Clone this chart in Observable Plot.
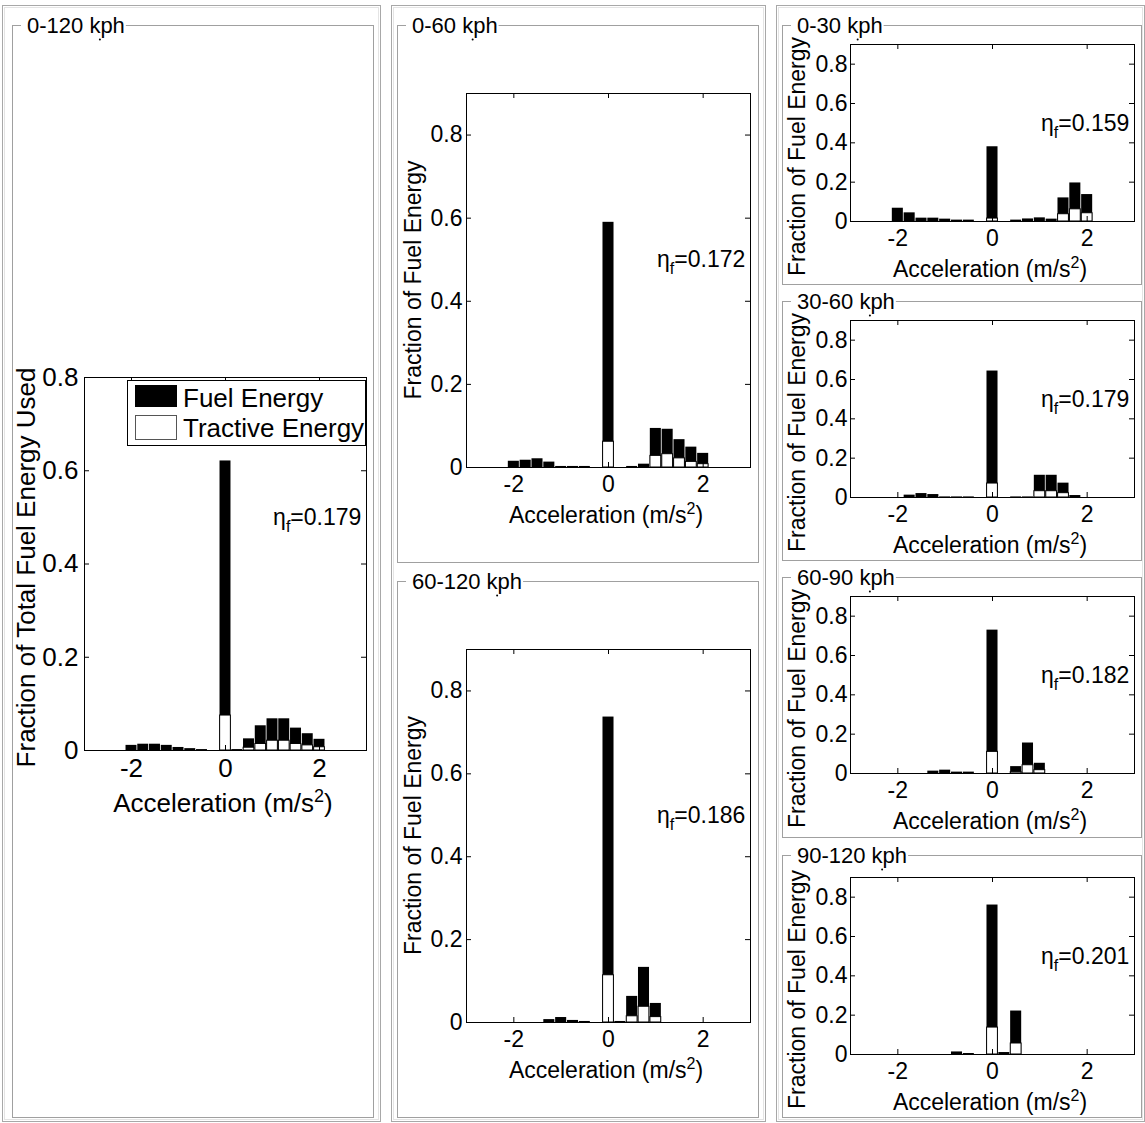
<!DOCTYPE html>
<html><head><meta charset="utf-8">
<script src="https://cdn.jsdelivr.net/npm/d3@7"></script>
<script src="https://cdn.jsdelivr.net/npm/@observablehq/plot@0.6"></script>
<style>
html,body{margin:0;padding:0;background:#fff;}
#root{position:relative;width:1145px;height:1123px;overflow:hidden;font-family:"Liberation Sans",Arial,sans-serif;}
#root svg{position:absolute;overflow:visible;}
</style></head><body><div id="root"></div>
<script>
// ---- data ----
const bins = [-2,-1.75,-1.5,-1.25,-1,-0.75,-0.5,-0.25,0,0.25,0.5,0.75,1,1.25,1.5,1.75,2];
const titles = ["0-120 kph","0-60 kph","60-120 kph","0-30 kph","30-60 kph","60-90 kph","90-120 kph"];
const etas = ["0.179","0.172","0.186","0.159","0.179","0.182","0.201"];
const yMaxes = [0.8,0.9,0.9,0.9,0.9,0.9,0.9];
const xTicks = [-2,0,2];
const yTicks = [0,0.2,0.4,0.6,0.8];
const yLabels = ["Fraction of Total Fuel Energy Used","Fraction of Fuel Energy","Fraction of Fuel Energy","Fraction of Fuel Energy","Fraction of Fuel Energy","Fraction of Fuel Energy","Fraction of Fuel Energy"];
const xLabelParts = ["Acceleration (m/s","2",")"];
const legendLabels = ["Fuel Energy","Tractive Energy"];

const fuel0to120  = [0.011,0.0135,0.0135,0.011,0.0065,0.004,0.002,0,0.621,0.002,0.025,0.053,0.068,0.068,0.048,0.036,0.024];
const tract0to120 = [0,0,0,0,0,0,0,0,0.075,0,0.006,0.014,0.021,0.021,0.014,0.011,0.007];
const fuel0to60   = [0.015,0.0175,0.021,0.013,0.0025,0.0025,0.0025,0,0.59,0,0.0025,0.008,0.094,0.092,0.067,0.049,0.034];
const tract0to60  = [0,0,0,0,0,0,0,0,0.062,0,0,0,0.028,0.032,0.022,0.0135,0.008];
const fuel60to120 = [0,0,0,0.007,0.012,0.005,0.0025,0,0.737,0.0025,0.063,0.133,0.046,0,0,0,0];
const tract60to120= [0,0,0,0,0,0,0,0,0.114,0,0.015,0.038,0.013,0,0,0,0];
const fuel0to30   = [0.0675,0.044,0.017,0.017,0.012,0.007,0.007,0,0.38,0,0.007,0.013,0.0185,0.012,0.12,0.196,0.137];
const tract0to30  = [0,0,0,0,0,0,0,0,0.015,0,0,0,0,0,0.037,0.062,0.042];
const fuel30to60  = [0,0.012,0.02,0.015,0.003,0.003,0.003,0,0.643,0,0.003,0.003,0.113,0.113,0.073,0.01,0];
const tract30to60 = [0,0,0,0,0,0,0,0,0.071,0,0,0,0.032,0.032,0.022,0,0];
const fuel60to90  = [0,0,0,0.012,0.017,0.007,0.007,0,0.729,0,0.035,0.155,0.052,0,0,0,0];
const tract60to90 = [0,0,0,0,0,0,0,0,0.11,0,0.007,0.042,0.017,0,0,0,0];
const fuel90to120 = [0,0,0,0,0,0.013,0.005,0,0.76,0.01,0.221,0,0,0,0,0,0];
const tract90to120= [0,0,0,0,0,0,0,0,0.137,0,0.056,0,0,0,0,0,0];

const fuelSets  = [fuel0to120,fuel0to60,fuel60to120,fuel0to30,fuel30to60,fuel60to90,fuel90to120];
const tractSets = [tract0to120,tract0to60,tract60to120,tract0to30,tract30to60,tract60to90,tract90to120];
const etaAnchor = {x: 2.89, y: 0.5};

// ---- layout (page pixels) ----
const layout = [
 {plot:[84,377,366,750],  fs:26, ypad:6, xlabDy:62, ylab:{x:35, mode:"center", shift:4},  box:[12,25,373,1117]},
 {plot:[466,93,750,467],  fs:23, ypad:4, xlabDy:56, ylab:{x:421, mode:"center", shift:0}, box:[397,25,758,562]},
 {plot:[466,649,750,1022],fs:23, ypad:4, xlabDy:56, ylab:{x:421, mode:"center", shift:0}, box:[397,581,758,1117]},
 {plot:[850,44,1134,221], fs:23, ypad:3, xlabDy:56, ylab:{x:805, mode:"bottom", shift:55}, box:[782,25,1141,284]},
 {plot:[850,320,1134,497],fs:23, ypad:3, xlabDy:56, ylab:{x:805, mode:"bottom", shift:55}, box:[782,301,1141,560]},
 {plot:[850,596,1134,773],fs:23, ypad:3, xlabDy:56, ylab:{x:805, mode:"bottom", shift:55}, box:[782,577,1141,837]},
 {plot:[850,877,1134,1054],fs:23,ypad:3, xlabDy:56, ylab:{x:805, mode:"bottom", shift:55}, box:[782,855,1141,1117]},
];
const columns = [[2,5,380,1121],[391,5,765,1121],[776,5,1144,1121]];
const FONT = '"Liberation Sans", Arial, Helvetica, sans-serif';
const root = document.getElementById("root");

// ---- plots ----
layout.forEach((L, i) => {
  const [x0,y0,x1,y1] = L.plot;
  const w = x1-x0, h = y1-y0;
  const ml=70, mr=20, mt=20, mb=45;
  const rows = bins.map((a,k)=>({a, fuel: fuelSets[i][k], tract: tractSets[i][k]}));
  const half = (bins[1]-bins[0])/2;
  const svg = Plot.plot({
    width: w+ml+mr, height: h+mt+mb,
    marginLeft: ml, marginRight: mr, marginTop: mt, marginBottom: mb,
    style: {background:"transparent", fontFamily: FONT, fontSize: L.fs+"px", color:"#000", overflow:"visible"},
    x: {domain:[-3,3], ticks: xTicks, tickFormat: d=>String(d), tickSize:0, tickPadding:8, label:null},
    y: {domain:[0,yMaxes[i]], ticks: yTicks, tickFormat: d=>String(d), tickSize:0, tickPadding:L.ypad, label:null},
    marks: [
      Plot.rectY(rows.filter(d=>d.fuel>0), {x1: d=>d.a-half, x2: d=>d.a+half, y: "fuel", fill:"black", insetLeft:0.4, insetRight:0.4}),
      Plot.rectY(rows.filter(d=>d.tract>0), {x1: d=>d.a-half, x2: d=>d.a+half, y: "tract", fill:"white", stroke:"black", strokeWidth:1, insetLeft:0.5, insetRight:0.5}),
      Plot.tickX(xTicks, {x: d=>d, insetTop: h-5, stroke:"black"}),
      Plot.tickX(xTicks, {x: d=>d, insetBottom: h-5, stroke:"black"}),
      Plot.tickY(yTicks, {y: d=>d, insetRight: w-5, stroke:"black"}),
      Plot.tickY(yTicks, {y: d=>d, insetLeft: w-5, stroke:"black"}),
      Plot.frame({stroke:"black"}),
      Plot.text([etas[i]], {x: ()=>etaAnchor.x, y: ()=>etaAnchor.y, text: d=>"η="+d, textAnchor:"end", fontSize:23, fill:"black"})
    ]
  });
  svg.style.left = (x0-ml)+"px";
  svg.style.top = (y0-mt)+"px";
  d3.select(svg).selectAll("text").each(function(){
    const t = this.textContent;
    if (t.startsWith("η=")) {
      const s = d3.select(this); const v = t.slice(2);
      s.text(null);
      s.append("tspan").text("η");
      s.append("tspan").attr("dy",7).attr("font-size",16).text("f");
      s.append("tspan").attr("dy",-7).text("="+v);
    }
  });
  root.appendChild(svg);
});

// ---- overlay: frames, titles, axis labels, legend ----
const ov = d3.select(root).append("svg").attr("width",1145).attr("height",1123)
  .style("left","0px").style("top","0px").style("pointer-events","none")
  .attr("font-family", FONT);

columns.forEach(([a,b,c,d]) => {
  ov.append("rect").attr("x",a+0.5).attr("y",b+0.5).attr("width",c-a).attr("height",d-b)
    .attr("fill","none").attr("stroke","#a8a8a8");
  ov.append("rect").attr("x",a+2.5).attr("y",b+2.5).attr("width",c-a-4).attr("height",d-b-4)
    .attr("fill","none").attr("stroke","#e4e4e4");
});

layout.forEach((L, i) => {
  const [bx0,by0,bx1,by1] = L.box;
  ov.append("rect").attr("x",bx0+0.5).attr("y",by0+0.5).attr("width",bx1-bx0).attr("height",by1-by0)
    .attr("fill","none").attr("stroke","#a0a0a0");
  const tx = bx0+15;
  const t = ov.append("text").attr("x",tx).attr("y",by0+7.5).attr("font-size",22).attr("fill","#000").text(titles[i]);
  const tw = t.node().getComputedTextLength();
  ov.insert("rect", () => t.node()).attr("x",tx-6).attr("y",by0-3).attr("width",tw+7).attr("height",6).attr("fill","#fff");
  const kw = t.node().getSubStringLength(0, titles[i].indexOf("k")+1);
  ov.append("circle").attr("cx",tx+kw-0.5).attr("cy",by0+14.5).attr("r",1).attr("fill","#000");

  const [x0,y0,x1,y1] = L.plot;
  const xl = ov.append("text").attr("x",(x0+x1)/2-2).attr("y",y1+L.xlabDy).attr("text-anchor","middle")
    .attr("font-size",L.fs).attr("fill","#000");
  xl.append("tspan").text(xLabelParts[0]);
  xl.append("tspan").attr("dy",-Math.round(L.fs*0.4)).attr("font-size",Math.round(L.fs*0.7)).text(xLabelParts[1]);
  xl.append("tspan").attr("dy",Math.round(L.fs*0.4)).text(xLabelParts[2]);
  let yy, anchor;
  if (L.ylab.mode === "center") { yy = (y0+y1)/2 + L.ylab.shift; anchor = "middle"; }
  else { yy = y1 + L.ylab.shift; anchor = "start"; }
  ov.append("text").attr("transform",`translate(${L.ylab.x},${yy}) rotate(-90)`)
    .attr("text-anchor",anchor).attr("font-size",L.fs).attr("fill","#000").text(yLabels[i]);
});

// legend (panel 1)
const lg = ov.append("g");
lg.append("rect").attr("x",127.5).attr("y",380.5).attr("width",238).attr("height",65).attr("fill","#fff").attr("stroke","#000");
lg.append("rect").attr("x",135).attr("y",385).attr("width",42).attr("height",22).attr("fill","#000");
lg.append("rect").attr("x",135.5).attr("y",415.5).attr("width",41).attr("height",24).attr("fill","#fff").attr("stroke","#555");
lg.append("text").attr("x",183).attr("y",407).attr("font-size",26).attr("fill","#000").text(legendLabels[0]);
lg.append("text").attr("x",183).attr("y",437).attr("font-size",26).attr("fill","#000").text(legendLabels[1]);
</script></body></html>
